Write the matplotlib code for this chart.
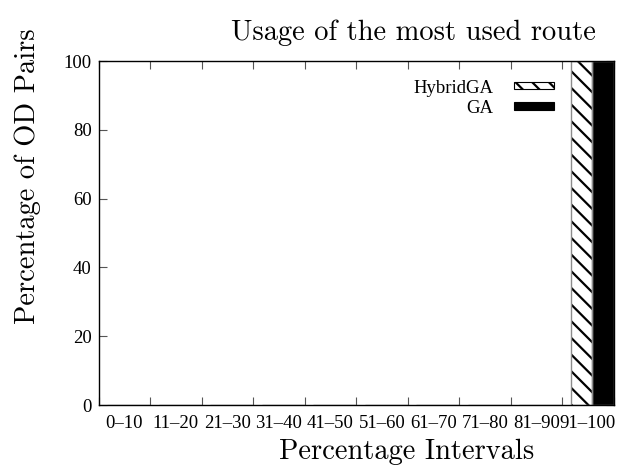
import matplotlib
matplotlib.use("Agg")
import matplotlib.pyplot as plt
from matplotlib.patches import Rectangle

categories = ["0\u201310", "11\u201320", "21\u201330", "31\u201340", "41\u201350",
              "51\u201360", "61\u201370", "71\u201380", "81\u201390", "91\u2013100"]
hybrid_ga = [0, 0, 0, 0, 0, 0, 0, 0, 0, 100]
ga = [0, 0, 0, 0, 0, 0, 0, 0, 0, 100]
y_ticks = [0, 20, 40, 60, 80, 100]

plt.rcParams['hatch.linewidth'] = 1.6

W, H = 618, 468
fig = plt.figure(figsize=(W / 100, H / 100), dpi=100)
ax = fig.add_axes([98.5 / W, 1 - 405 / H, 515 / W, 344 / H])

idx = list(range(len(categories)))
bw = 0.415
# HybridGA (hatched)
ax.bar([i + 0.17 for i in idx], hybrid_ga, width=bw, align='edge',
       color='white', hatch='\\\\', edgecolor='black', linewidth=0, zorder=2)
ax.bar([i + 0.17 for i in idx], hybrid_ga, width=bw, align='edge',
       fill=False, edgecolor='#8c8c8c', linewidth=1.0, zorder=2.1)
# GA (solid)
ax.bar([i + 0.17 + bw for i in idx], ga, width=bw, align='edge',
       color='black', edgecolor='#8c8c8c', linewidth=1.0, zorder=2)

ax.set_xlim(0, 10)
ax.set_ylim(0, 100)

tick_font = dict(family='Liberation Serif', size=13.5)
ax.set_xticks(idx + [10])
ax.set_xticklabels([])
ax.set_xticks([i + 0.5 for i in idx], minor=True)
ax.set_xticklabels(categories, minor=True, fontdict=tick_font)
ax.tick_params(axis='x', which='minor', length=0, pad=7)
ax.tick_params(axis='x', which='major', direction='in', length=6, width=0.8,
               top=True, color='#555555')
ax.set_yticks(y_ticks)
ax.set_yticklabels([str(v) for v in y_ticks], fontdict=tick_font)
ax.tick_params(axis='y', direction='in', length=6, width=0.8, right=True,
               pad=5, color='#555555')
for s in ax.spines.values():
    s.set_linewidth(1.0)
    s.set_zorder(3)

# legend (gnuplot style, text right-aligned left of sample)
leg_font = dict(family='Liberation Serif', size=13.5)
ax.text(0.766, 0.920, "HybridGA", transform=ax.transAxes, ha='right', va='center', **leg_font)
ax.text(0.766, 0.862, "GA", transform=ax.transAxes, ha='right', va='center', **leg_font)
ax.add_patch(Rectangle((0.807, 0.919), 0.077, 0.02, transform=ax.transAxes,
                       facecolor='white', hatch='\\\\', edgecolor='black', linewidth=0.8,
                       clip_on=False, zorder=4))
ax.add_patch(Rectangle((0.807, 0.857), 0.077, 0.023, transform=ax.transAxes,
                       facecolor='black', edgecolor='black', linewidth=0.8,
                       clip_on=False, zorder=4))

cm = dict(family='cmr10', size=20.5)
fig.text(413 / W, 1 - 33 / H, "Usage of the most used route", ha='center', va='center', **cm)
fig.text(407 / W, 1 - 452 / H, "Percentage Intervals", ha='center', va='center', **cm)
fig.text(28 / W, 1 - 176 / H, "Percentage of OD Pairs", ha='center', va='center',
         rotation=90, **cm)

fig.savefig("out.png", dpi=100)
